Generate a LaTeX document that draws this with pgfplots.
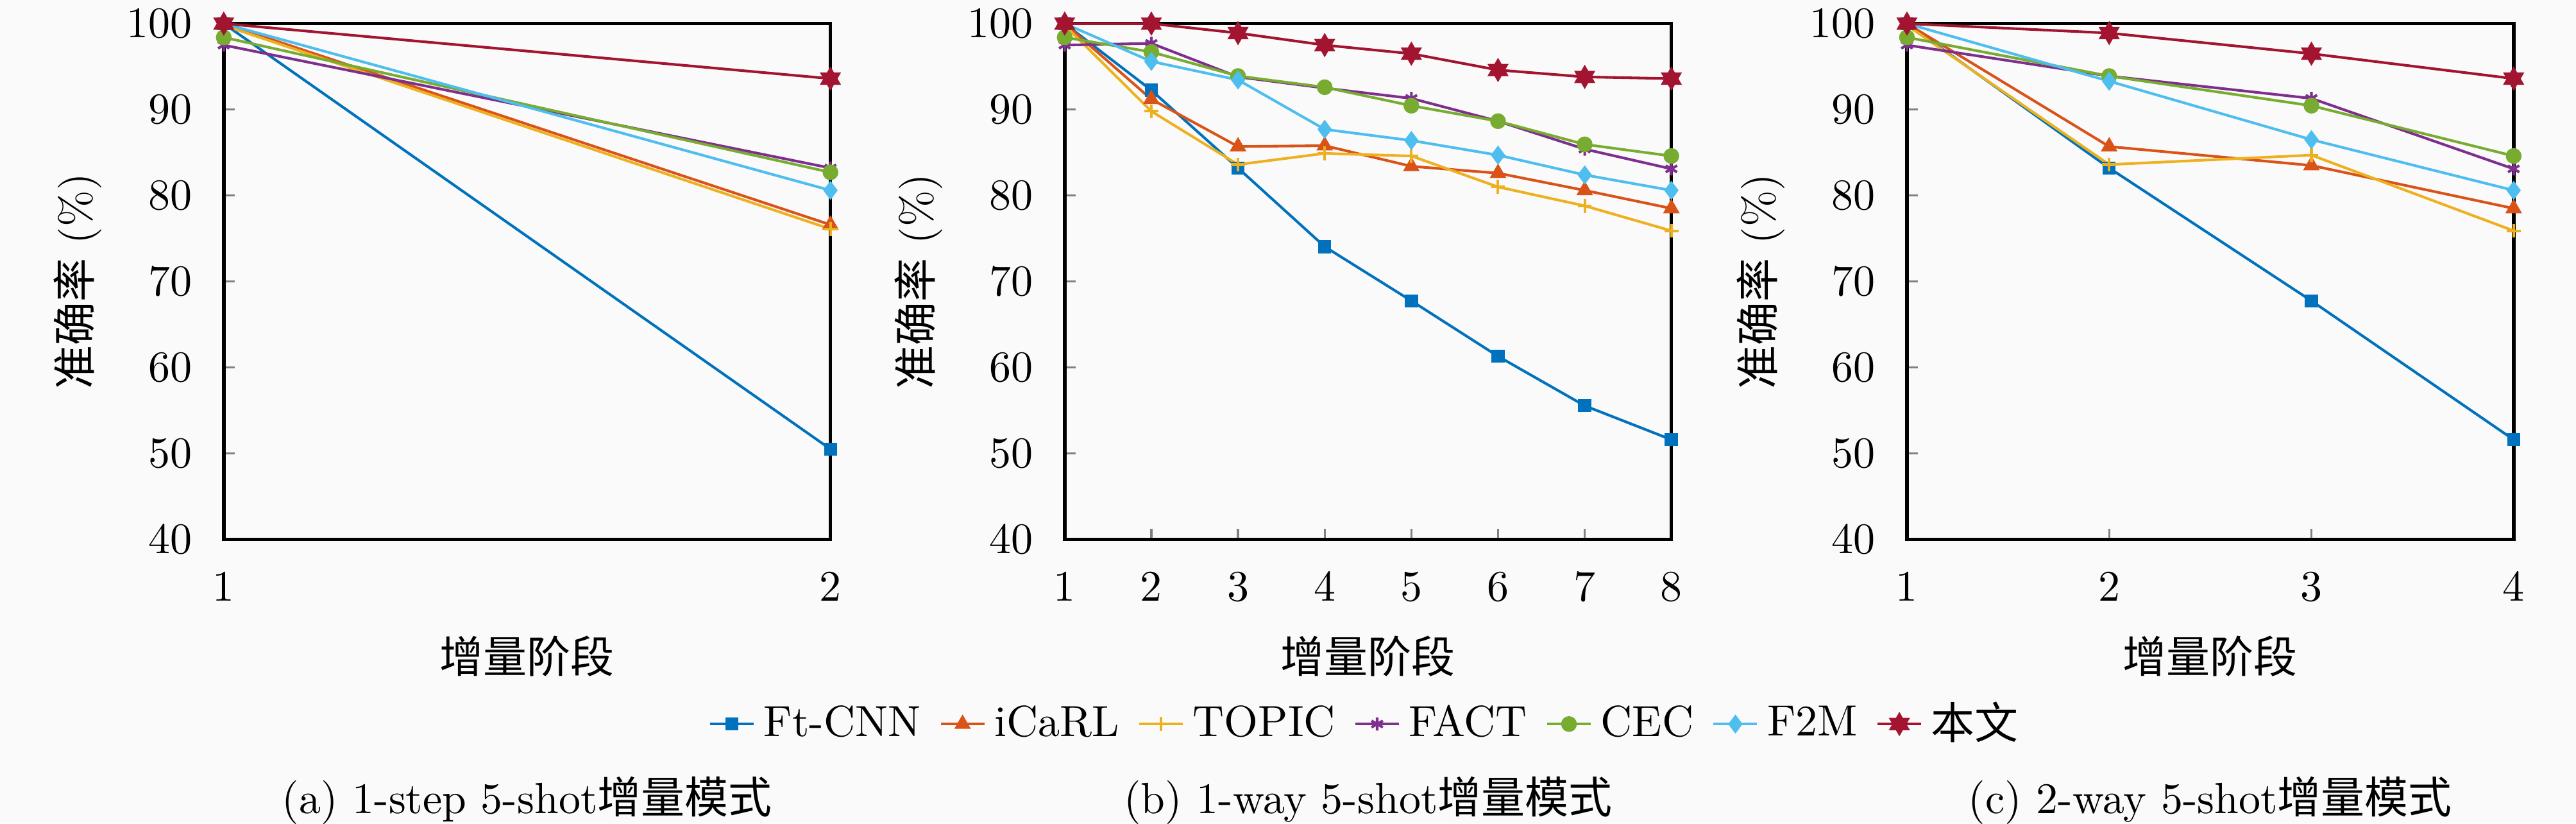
\documentclass[border=0pt]{standalone}
\usepackage{fontspec}
\usepackage{pgfplots}
\usepackage{pgfplotstable}
\pgfplotsset{compat=1.18}
\usetikzlibrary{plotmarks}
\newfontfamily\cjk{Noto Sans CJK SC}

\definecolor{cFt}{RGB}{0,114,189}
\definecolor{cIc}{RGB}{217,83,25}
\definecolor{cTo}{RGB}{237,177,32}
\definecolor{cFa}{RGB}{126,47,142}
\definecolor{cCe}{RGB}{119,172,48}
\definecolor{cF2}{RGB}{77,190,238}
\definecolor{cOu}{RGB}{162,20,47}
\definecolor{bgc}{RGB}{250,250,250}

\pgfdeclareplotmark{hexagram}{%
  \pgfpathmoveto{\pgfqpointpolar{90}{\pgfplotmarksize}}%
  \pgfpathlineto{\pgfqpointpolar{210}{\pgfplotmarksize}}%
  \pgfpathlineto{\pgfqpointpolar{330}{\pgfplotmarksize}}%
  \pgfpathclose
  \pgfpathmoveto{\pgfqpointpolar{270}{\pgfplotmarksize}}%
  \pgfpathlineto{\pgfqpointpolar{30}{\pgfplotmarksize}}%
  \pgfpathlineto{\pgfqpointpolar{150}{\pgfplotmarksize}}%
  \pgfpathclose
  \pgfusepathqfillstroke
}

\pgfplotstableread{
x ft icarl topic fact cec f2m ours
1 100 100 99.8 97.5 98.4 100 100
2 50.5 76.6 76.1 83.2 82.7 80.6 93.6
}\tabA
\pgfplotstableread{
x ft icarl topic fact cec f2m ours
1 100 100 99.8 97.5 98.4 100 100
2 92.25 91.2 89.8 97.7 96.7 95.6 100
3 83.2 85.7 83.6 93.8 93.9 93.45 98.9
4 74.05 85.8 84.9 92.5 92.6 87.7 97.5
5 67.75 83.4 84.6 91.3 90.45 86.4 96.5
6 61.3 82.6 81.0 88.65 88.65 84.7 94.6
7 55.55 80.6 78.8 85.4 85.95 82.4 93.8
8 51.6 78.5 75.9 83.1 84.6 80.6 93.6
}\tabB
\pgfplotstableread{
x ft icarl topic fact cec f2m ours
1 100 100 99.8 97.5 98.4 100 100
2 83.2 85.7 83.6 93.9 93.9 93.3 98.9
3 67.75 83.5 84.7 91.3 90.45 86.5 96.5
4 51.6 78.5 75.9 83.1 84.6 80.6 93.6
}\tabC

\pgfplotsset{
  myax/.style={
    scale only axis, width=139.1pt, height=118.2pt,
    anchor=south west,
    ymin=40, ymax=100, ytick={40,50,...,100},
    xmin=1, xtick=data,
    tick pos=left, tick align=inside,
    axis line style={line width=0.8pt},
    major tick style={line width=0.5pt},
    major tick length=2.5pt,
    clip=false,
    xticklabel style={yshift=-4.2pt},
    yticklabel style={xshift=-3.7pt},
    xlabel={\cjk 增量阶段},
    ylabel={{\cjk 准确率} (\%)},
    xlabel style={at={(axis description cs:0.5,-0.226)},anchor=center},
    ylabel style={at={(axis description cs:-0.241,0.5)},anchor=center},
    every axis plot/.append style={line width=0.6pt},
  },
  sFt/.style={color=cFt, mark=square*, mark size=1.2pt, mark options={solid,fill=cFt}},
  sIc/.style={color=cIc, mark=triangle*, mark size=1.6pt, mark options={solid,fill=cIc}},
  sTo/.style={color=cTo, mark=+, mark size=1.6pt, mark options={solid}},
  sFa/.style={color=cFa, mark=asterisk, mark size=1.5pt, mark options={solid}},
  sCe/.style={color=cCe, mark=*, mark size=1.5pt, mark options={solid,fill=cCe}},
  sF2/.style={color=cF2, mark=diamond*, mark size=1.7pt, mark options={solid,fill=cF2}},
  sOu/.style={color=cOu, mark=hexagram, mark size=2.2pt, mark options={solid,fill=cOu}},
}

\newcommand\allplots[1]{%
  \addplot[sFt] table[x=x,y=ft]{#1};
  \addplot[sIc] table[x=x,y=icarl]{#1};
  \addplot[sTo] table[x=x,y=topic]{#1};
  \addplot[sFa] table[x=x,y=fact]{#1};
  \addplot[sCe] table[x=x,y=cec]{#1};
  \addplot[sF2] table[x=x,y=f2m]{#1};
  \addplot[sOu] table[x=x,y=ours]{#1};
}

\begin{document}
\begin{tikzpicture}
\fill[bgc] (0,0) rectangle (590.6pt,188.7pt);
\useasboundingbox (0,0) rectangle (590.6pt,188.7pt);

\begin{axis}[myax, at={(51.3pt,65.1pt)}, xmax=2]
\allplots{\tabA}
\node at (axis description cs:0.5,-0.506) {(a) 1-step 5-shot{\cjk 增量模式}};
\end{axis}

\begin{axis}[myax, at={(244.1pt,65.1pt)}, xmax=8,
  legend columns=7,
  legend style={at={(axis description cs:0.5,-0.358)}, anchor=center,
    draw=none, fill=none, /tikz/every even column/.append style={column sep=2.3pt}},
  legend image code/.code={\draw[mark repeat=2,mark phase=2] plot coordinates {(0pt,0pt) (5pt,0pt) (10pt,0pt)};}]
\allplots{\tabB}
\legend{Ft-CNN, iCaRL, TOPIC, FACT, CEC, F2M, {\cjk 本文}}
\node at (axis description cs:0.5,-0.506) {(b) 1-way 5-shot{\cjk 增量模式}};
\end{axis}

\begin{axis}[myax, at={(437.2pt,65.1pt)}, xmax=4]
\allplots{\tabC}
\node at (axis description cs:0.5,-0.506) {(c) 2-way 5-shot{\cjk 增量模式}};
\end{axis}
\end{tikzpicture}
\end{document}
